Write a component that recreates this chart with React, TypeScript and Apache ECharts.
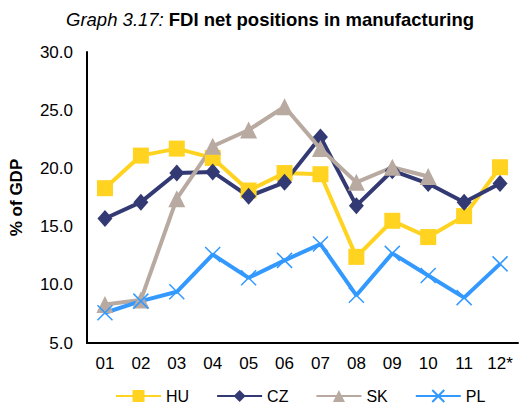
import React, { useEffect, useRef } from "react";
import * as echarts from "echarts";

const categories = ["01", "02", "03", "04", "05", "06", "07", "08", "09", "10", "11", "12*"];
const huValues = [18.3, 21.1, 21.7, 20.9, 18.1, 19.6, 19.5, 12.4, 15.5, 14.1, 15.9, 20.1];
const czValues = [15.7, 17.1, 19.6, 19.7, 17.6, 18.8, 22.7, 16.8, 19.8, 18.7, 17.1, 18.7];
const skValues: (number | null)[] = [8.3, 8.7, 17.4, 21.9, 23.3, 25.3, 21.7, 18.8, 20.1, 19.3, null, null];
const plValues = [7.6, 8.6, 9.4, 12.6, 10.6, 12.1, 13.5, 9.1, 12.7, 10.8, 8.9, 11.8];
const seriesNames = ["HU", "CZ", "SK", "PL"];

const FONT = "Liberation Sans, Arial, sans-serif";

export default function App() {
  const ref = useRef<HTMLDivElement>(null);
  useEffect(() => {
    if (!ref.current) return;
    const chart = echarts.init(ref.current, null, { renderer: "svg" });
    const colors = ["#FFD320", "#333A73", "#B8AAA0", "#3399FF"];
    chart.setOption({
      animation: false,
      textStyle: { fontFamily: FONT },
      title: {
        text: "{i|Graph 3.17:} {b|FDI net positions in manufacturing}",
        left: 265,
        textAlign: "center",
        top: 5,
        textStyle: {
          rich: {
            i: { fontStyle: "italic", fontWeight: "normal", fontSize: 18.5, color: "#000", fontFamily: FONT },
            b: { fontWeight: "bold", fontSize: 18.5, color: "#000", fontFamily: FONT },
          },
        },
      },
      grid: { left: 86, right: 1, top: 52, bottom: 62 },
      legend: {
        top: 383,
        left: 110,
        itemWidth: 45,
        itemHeight: 15,
        itemGap: 27,
        textStyle: { fontSize: 16, lineHeight: 16, color: "#000", fontFamily: FONT },
        data: seriesNames,
      },
      xAxis: {
        type: "category",
        data: categories,
        boundaryGap: true,
        axisLine: { lineStyle: { color: "#000", width: 2 } },
        axisTick: { show: false },
        axisLabel: { fontSize: 17, color: "#000", margin: 12, fontFamily: FONT },
      },
      yAxis: {
        type: "value",
        min: 5,
        max: 30,
        interval: 5,
        name: "% of GDP",
        nameLocation: "middle",
        nameGap: 62,
        nameTextStyle: { fontSize: 17, fontWeight: "bold", color: "#000", fontFamily: FONT },
        axisLine: { show: true, lineStyle: { color: "#000", width: 2 } },
        axisTick: { show: false },
        splitLine: { show: false },
        axisLabel: {
          fontSize: 17,
          color: "#000",
          margin: 14,
          fontFamily: FONT,
          formatter: (v: number) => v.toFixed(1),
        },
      },
      series: [
        {
          name: "HU",
          type: "line",
          data: huValues,
          color: colors[0],
          symbol: "rect",
          symbolSize: 16,
          lineStyle: { width: 4, color: colors[0] },
          itemStyle: { color: colors[0] },
        },
        {
          name: "CZ",
          type: "line",
          data: czValues,
          color: colors[1],
          symbol: "diamond",
          symbolSize: [15, 17],
          lineStyle: { width: 4, color: colors[1] },
          itemStyle: { color: colors[1] },
        },
        {
          name: "SK",
          type: "line",
          data: skValues,
          color: colors[2],
          symbol: "triangle",
          symbolSize: 17,
          lineStyle: { width: 4, color: colors[2] },
          itemStyle: { color: colors[2] },
        },
        {
          name: "PL",
          type: "line",
          data: plValues,
          color: colors[3],
          symbol: "path://M0,0L10,10M10,0L0,10",
          symbolSize: 15,
          lineStyle: { width: 4, color: colors[3] },
          itemStyle: { color: colors[3], borderColor: colors[3], borderWidth: 1.5 },
        },
      ],
    });
    return () => chart.dispose();
  }, []);
  return (
    <div
      ref={ref}
      style={{ position: "fixed", left: 0, top: 0, width: 519, height: 405, background: "#fff" }}
    />
  );
}
